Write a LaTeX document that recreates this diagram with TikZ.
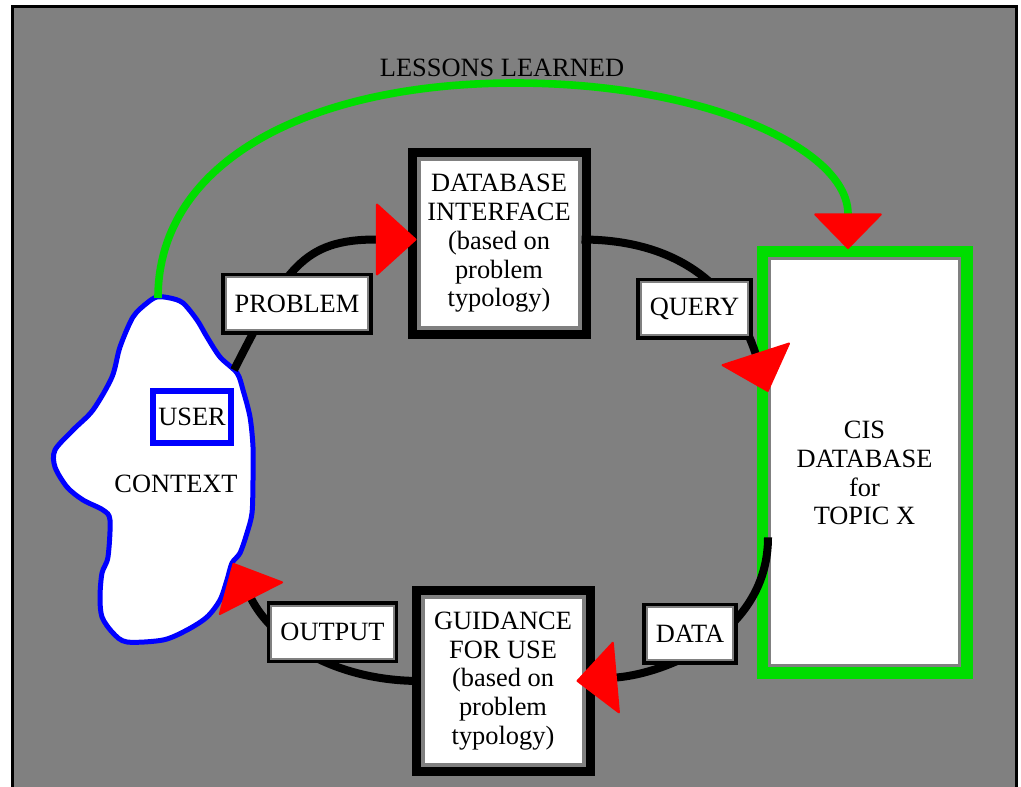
\documentclass[tikz,border=0pt]{standalone}
\usepackage{fontspec}
\setmainfont{Liberation Serif}
\usetikzlibrary{arrows.meta}
\definecolor{cisgreen}{RGB}{0,221,0}

\begin{document}
\begin{tikzpicture}[x=0.5pt,y=0.5pt,
    font=\fontsize{13.2}{14.4}\selectfont,
    bigbox/.style={rectangle,fill=white,draw=gray,line width=2pt,align=center,inner sep=0pt,
        minimum width=80.5pt,minimum height=84pt,preaction={draw=black,line width=11pt}},
    cisbox/.style={rectangle,fill=white,draw=gray,line width=1.5pt,
        minimum width=95pt,minimum height=203.5pt,preaction={draw=cisgreen,line width=13pt}},
    tag/.style={rectangle,fill=white,draw=gray,line width=1pt,inner xsep=4.5pt,inner ysep=0pt,
        minimum height=26.5pt,preaction={draw=black,line width=4.5pt}},
    flow/.style={line width=4pt,-{Triangle[length=20.5pt,width=37pt,line width=1pt,round,color=red]}}]
            \path[use as bounding box,fill=white] (0,0) rectangle (1021,-786);
            \draw[line width=1.5pt,fill=gray] (12,-7) rectangle (1016,-800);
            \node[cisbox] (cis) at (864.5,-462) {};
            \node[align=center] (cistext) at ([yshift=-5.5pt]cis.center) {CIS\\DATABASE\\for\\TOPIC X};
            \node[bigbox] (dbi) at (499,-243.5) {DATABASE\\INTERFACE\\(based on\\problem\\typology)};
            \node[bigbox] (guide) at (503,-681) {GUIDANCE\\FOR USE\\(based on\\problem\\typology)};
            \draw[blue,line width=2.5pt,fill=white]
                plot[smooth cycle,tension=0.5] coordinates {(157,-297) (170,-298) (183,-303) (197,-320)
                (207,-337) (220,-357) (237,-373) (243,-390) (250,-417) (253,-447) (253,-480) (252,-513)
                (247,-533) (240,-553) (232,-563) (227,-580) (220,-600) (207,-617) (187,-630) (163,-640)
                (127,-642) (113,-633) (102,-617) (100,-597) (102,-573) (108,-557) (110,-520) (103,-510)
                (83,-500) (67,-487) (55,-467) (55,-450) (73,-430) (93,-410) (112,-377) (120,-347)
                (133,-317) (147,-303)};
            \node[draw=blue,line width=3pt,fill=white,minimum width=39pt,minimum height=26pt,inner sep=0pt] (user) at (192,-417) {USER};
            \node (ctx) at (176,-484) {CONTEXT};
            \coordinate (ctxtop) at (158,-298);
            \coordinate (ctxin) at (234,-370);
            \coordinate (ctxout) at (233,-563);
            \draw[flow] (ctxin) to[out=63,in=180,looseness=1.3] ([yshift=2pt]dbi.west);
            \draw[flow] ([yshift=2pt]dbi.east) to[out=0,in=108,looseness=1.1] (cis.144);
            \draw[flow] (cis.218) to[out=-90,in=5] ([xshift=-4.5pt]guide.east);
            \draw[flow] (guide.west) to[out=180,in=-63] (ctxout);
            \draw[line width=3.8pt,cisgreen,-{Triangle[length=18pt,width=35pt,line width=1pt,round,color=red]}]
                (ctxtop) .. controls +(0,140) and +(-200,0) .. (515,-83) node[above,text=black,xshift=-6.5pt,yshift=-2pt] (lessons) {LESSONS LEARNED}
                .. controls +(190,0) and +(0,100) .. ([shift={(-16.5,8)}]cis.north);
            \foreach \name/\x/\y/\txt in {problem/297/-303.5/PROBLEM,query/694.5/-308.5/QUERY,data/690/-633.5/DATA,output/332.5/-632/OUTPUT}{
                \node[tag] (\name) at (\x,\y) {\txt};
            }
\end{tikzpicture}
\end{document}
